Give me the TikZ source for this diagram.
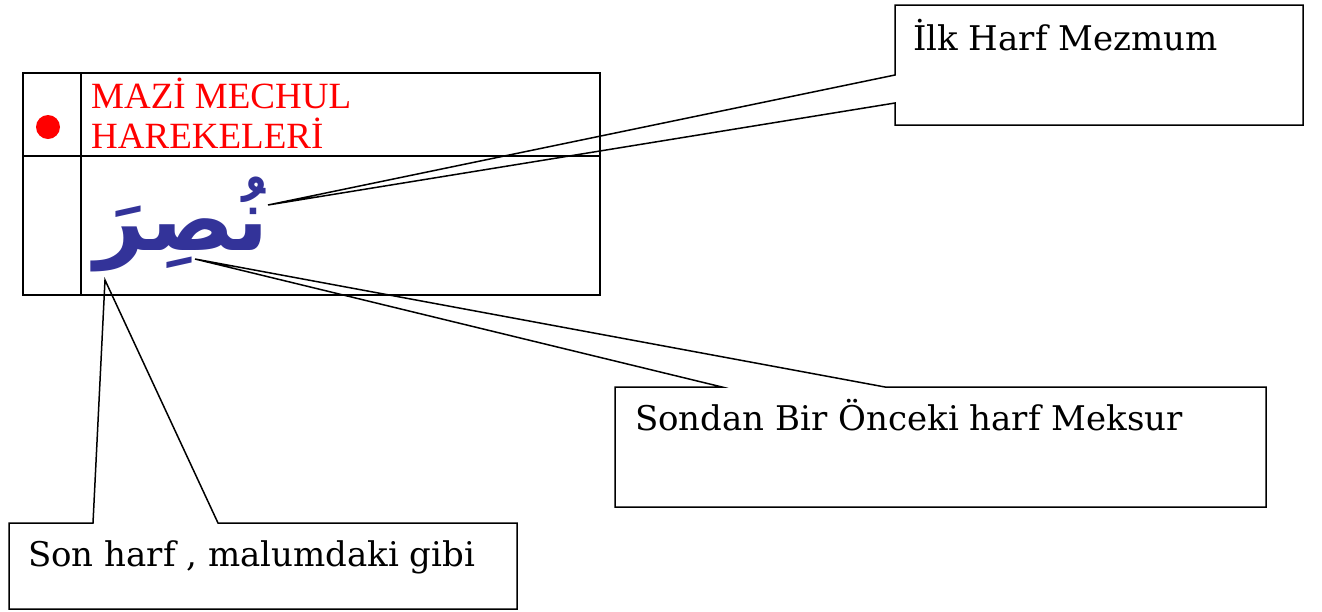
\documentclass[tikz,border=0pt]{standalone}
\usepackage{fontspec}
\setmainfont{DejaVu Serif}
\newfontfamily\redfont{Liberation Serif}
\newfontfamily\arabicfont[Script=Arabic]{DejaVu Sans}
\TeXXeTstate=1
\definecolor{arblue}{HTML}{333399}
\definecolor{redtxt}{HTML}{FF0000}
\begin{document}
\begin{tikzpicture}[x=1pt,y=-1pt,
  tableline/.style={line width=1.7pt},
  callout/.style={line width=1.5pt, line join=miter},
  calltext/.style={anchor=base west, inner sep=0pt, font=\fontsize{34}{40}\selectfont},
  redline/.style={anchor=base west, inner sep=0pt, text=redtxt, font=\redfont\fontsize{37}{40}\selectfont}]
\useasboundingbox (0,0) rectangle (1322,611);
% table
\draw[tableline] (23,73) rectangle (600,295);
\draw[tableline] (23,156) -- (600,156);
\draw[tableline] (81,73) -- (81,295);
\fill[redtxt] (48,127) circle (12);
\node[redline] (r1) at (91,108) {MAZİ MECHUL};
\node[redline] (r2) at (91,148) {HAREKELERİ};
\node[anchor=base east, inner sep=0pt, text=arblue, font=\arabicfont\bfseries\fontsize{88}{95}\selectfont] (word) at (269,250) {\beginR نُصِرَ\endR};
% tips
\coordinate (tip1) at (268,205);
\coordinate (tip2) at (195,259);
\coordinate (tip3) at (105,280);
% callout 1
\coordinate (c1a) at (895,75);
\coordinate (c1b) at (895,103);
\draw[callout] (895,5) -- (1303,5) -- (1303,125) -- (895,125) -- (c1b) -- (tip1) -- (c1a) -- cycle;
\node[calltext] (t1) at (913,50) {İlk Harf Mezmum};
% callout 2
\coordinate (c2a) at (722,387);
\coordinate (c2b) at (885,387);
\draw[callout] (615,387) -- (c2a) -- (tip2) -- (c2b) -- (1266,387) -- (1266,507) -- (615,507) -- cycle;
\node[calltext] (t2) at (635,430) {Sondan Bir Önceki harf Meksur};
% callout 3
\coordinate (c3a) at (93,523);
\coordinate (c3b) at (218,523);
\draw[callout] (9,523) -- (c3a) -- (tip3) -- (c3b) -- (517,523) -- (517,609) -- (9,609) -- cycle;
\node[calltext] (t3) at (28,566) {Son harf , malumdaki gibi};
\end{tikzpicture}
\end{document}
